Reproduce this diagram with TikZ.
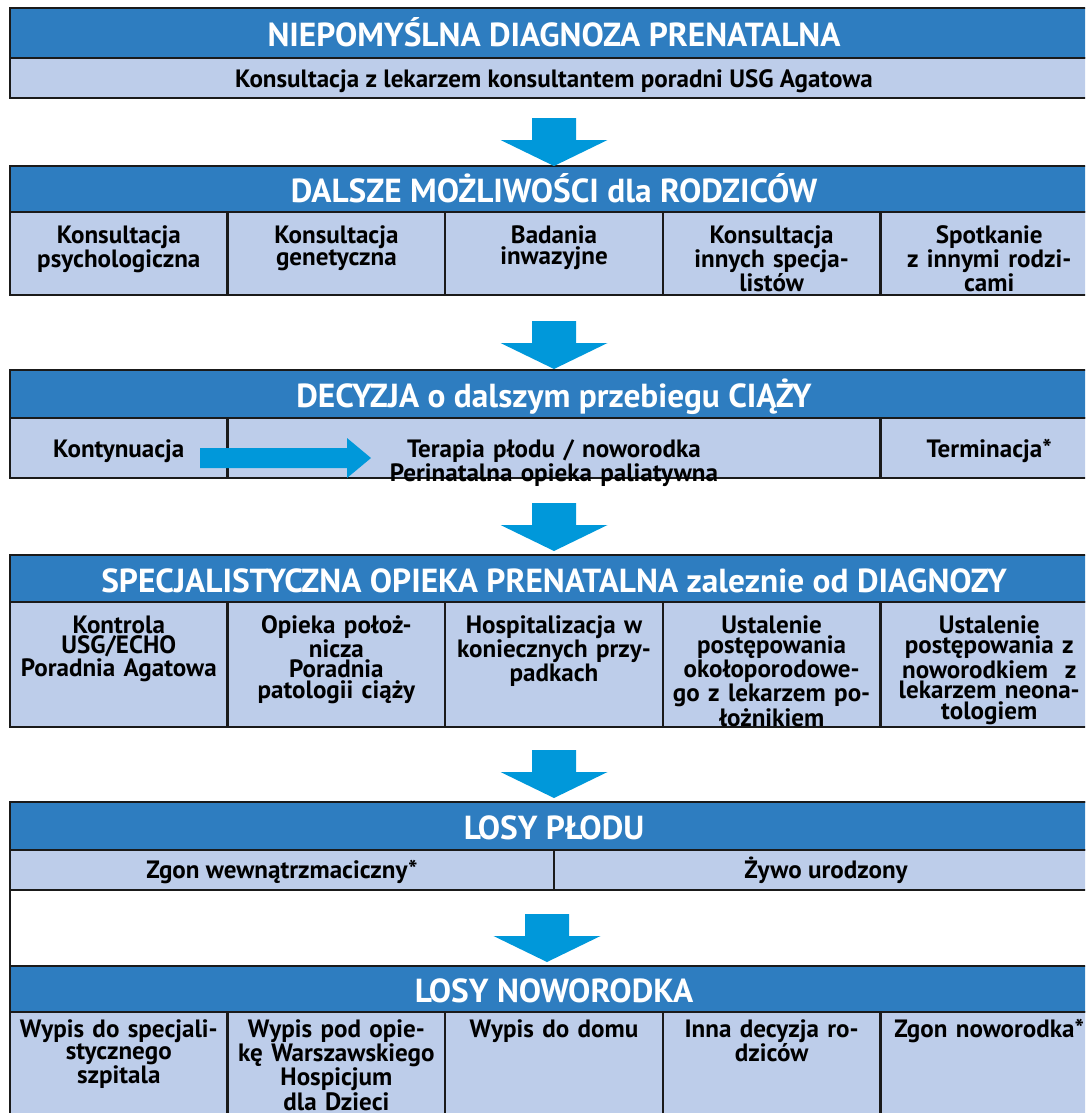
\documentclass[tikz,border=0pt]{standalone}
\usepackage{fontspec}
\setmainfont{PT Sans}
\definecolor{hdrblue}{RGB}{46,125,192}
\definecolor{cellblue}{RGB}{189,205,234}
\definecolor{arrowblue}{RGB}{0,152,218}
\definecolor{frame}{RGB}{26,26,26}

\begin{document}
\begin{tikzpicture}[x=0.75pt,y=-0.75pt,
    hdr/.style={fill=hdrblue,draw=frame,line width=1.8pt},
    cell/.style={fill=cellblue,draw=frame,line width=1.8pt},
    hdrtext/.style={text=white,inner sep=0pt,font=\bfseries\fontsize{25}{27}\selectfont,text height=17.5pt,text depth=0pt},
    celltext/.style={inner sep=0pt,text width=200pt,align=center,anchor=base,font=\bfseries\fontsize{18.8}{#1}\selectfont},
    celltext/.default=15.75pt,
    linetext/.style={inner sep=0pt,font=\bfseries\fontsize{18.8}{20}\selectfont,text height=13.2pt,text depth=0pt},
    blockarrow/.style={fill=arrowblue}]

    \useasboundingbox (0,0) rectangle (1085,1113);
    \clip (0,0) rectangle (1085,1113);

    % diagnoza
    \draw[hdr] (10,8) rectangle (1098,58);
    \draw[cell] (10,58) rectangle (1098,98);
    \node[hdrtext] (diag) at (554,35) {NIEPOMYŚLNA DIAGNOZA PRENATALNA};
    \node[linetext] (diagsub) at (554,79) {Konsultacja z lekarzem konsultantem poradni USG Agatowa};

    % mozliwosci
    \draw[hdr] (10,166) rectangle (1098,212);
    \foreach \i in {0,...,4}
        \draw[cell] ({10+\i*217.6},212) rectangle ({10+(\i+1)*217.6},295);
    \node[hdrtext] (opt) at (554,191) {DALSZE MOŻLIWOŚCI dla RODZICÓW};
    \node[celltext] (opt1) at (118.8,243) {Konsultacja\\psychologiczna};
    \node[celltext] (opt2) at (336.4,243) {Konsultacja\\genetyczna};
    \node[celltext] (opt3) at (554,243) {Badania\\inwazyjne};
    \node[celltext] (opt4) at (771.6,243) {Konsultacja\\innych specja-\\listów};
    \node[celltext] (opt5) at (989.2,243) {Spotkanie\\z innymi rodzi-\\cami};

    % decyzja
    \draw[hdr] (10,370) rectangle (1098,418);
    \draw[cell] (10,418) rectangle (227.6,478);
    \draw[cell] (227.6,418) rectangle (880.4,478);
    \draw[cell] (880.4,418) rectangle (1098,478);
    \fill[blockarrow] (200,448) -- (347,448) -- (347,438) -- (371,458) -- (347,478) -- (347,468) -- (200,468) -- cycle;
    \node[hdrtext] (dec) at (554,396) {DECYZJA o dalszym przebiegu CIĄŻY};
    \node[celltext=13.5pt] (dec1) at (118.8,457) {Kontynuacja};
    \node[celltext=13.5pt,text width=300pt] (dec2) at (554,457) {Terapia płodu / noworodka\\Perinatalna opieka paliatywna};
    \node[celltext=13.5pt] (dec3) at (989.2,457) {Terminacja*};

    % opieka prenatalna
    \draw[hdr] (10,555) rectangle (1098,602);
    \foreach \i in {0,...,4}
        \draw[cell] ({10+\i*217.6},602) rectangle ({10+(\i+1)*217.6},727);
    \node[hdrtext] (spec) at (554,580.5) {SPECJALISTYCZNA OPIEKA PRENATALNA zaleznie od DIAGNOZY};
    \node[celltext=15.6pt] (spec1) at (118.8,633) {Kontrola\\USG/ECHO\\Poradnia Agatowa};
    \node[celltext=15.6pt] (spec2) at (336.4,633) {Opieka położ-\\nicza\\Poradnia\\patologii ciąży};
    \node[celltext=15.6pt] (spec3) at (554,633) {Hospitalizacja w\\koniecznych przy-\\padkach};
    \node[celltext=15.6pt] (spec4) at (771.6,633) {Ustalenie\\postępowania\\okołoporodowe-\\go z lekarzem po-\\łożnikiem};
    \node[celltext=15.6pt] (spec5) at (989.2,633) {Ustalenie\\postępowania z\\noworodkiem~~z\\lekarzem neona-\\tologiem};

    % losy plodu i noworodka
    \draw[draw=frame,line width=1.8pt,fill=white] (10,802) rectangle (1098,1125);
    \draw[hdr] (10,802) rectangle (1098,850);
    \draw[cell] (10,850) rectangle (554,890);
    \draw[cell] (554,850) rectangle (1098,890);
    \node[hdrtext] (fate) at (554,828) {LOSY PŁODU};
    \node[linetext] (fate1) at (282,870) {Zgon wewnątrzmaciczny*};
    \node[linetext] (fate2) at (826,870) {Żywo urodzony};

    \draw[hdr] (10,966) rectangle (1098,1012);
    \foreach \i in {0,...,4}
        \draw[cell] ({10+\i*217.6},1012) rectangle ({10+(\i+1)*217.6},1125);
    \node[hdrtext] (newb) at (554,991) {LOSY NOWORODKA};
    \node[celltext=15pt] (newb1) at (118.8,1037) {Wypis do specjali-\\stycznego\\szpitala};
    \node[celltext=15pt] (newb2) at (336.4,1037) {Wypis pod opie-\\kę Warszawskiego\\Hospicjum\\dla Dzieci};
    \node[celltext=15pt] (newb3) at (554,1037) {Wypis do domu};
    \node[celltext=15pt] (newb4) at (771.6,1037) {Inna decyzja ro-\\dziców};
    \node[celltext=15pt] (newb5) at (989.2,1037) {Zgon noworodka*};

    % strzalki
    \foreach \cx/\cy in {554/118,554/321,554/503,554/750,547/914}
        \fill[blockarrow] (\cx-22,\cy) -- (\cx+22,\cy) -- (\cx+22,\cy+22) -- (\cx+53.5,\cy+22) -- (\cx,\cy+48) -- (\cx-53.5,\cy+22) -- (\cx-22,\cy+22) -- cycle;
\end{tikzpicture}
\end{document}
